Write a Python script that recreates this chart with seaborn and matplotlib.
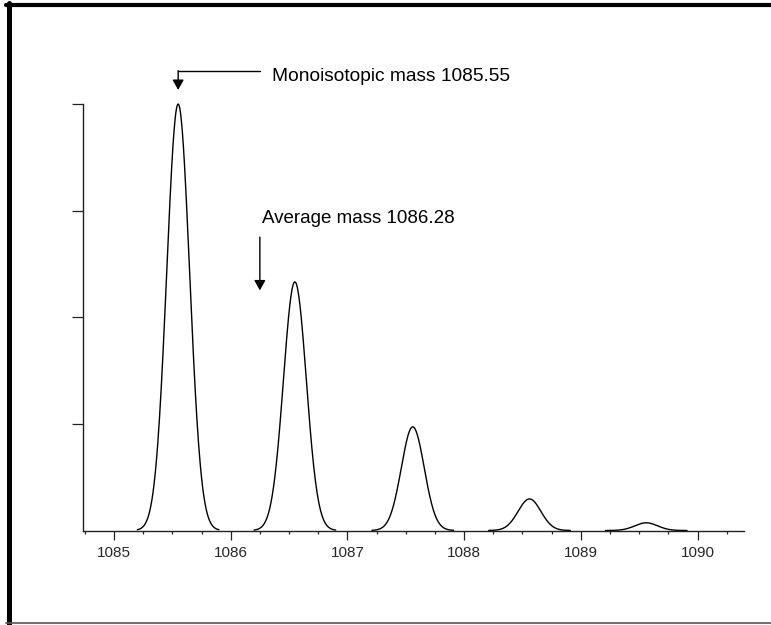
import numpy as np
import pandas as pd
import matplotlib
matplotlib.use("Agg")
import matplotlib.pyplot as plt
import seaborn as sns
from matplotlib.lines import Line2D

# isotope cluster (relative intensity, % of base peak)
peak_mz = [1085.55, 1086.55, 1087.56, 1088.56, 1089.56]
peak_height = [100.0, 58.3, 24.3, 7.4, 1.8]
peak_sigma = 0.098     # Da, profile width of each isotope peak
peak_halfspan = 0.35   # Da, extent of each drawn profile

x_major = [1085, 1086, 1087, 1088, 1089, 1090]
y_ticks = [25, 50, 75, 100]

mono_mass = 1085.55
avg_mass = 1086.25   # where the arrow sits on the axis
mono_label = "Monoisotopic mass 1085.55"
avg_label = "Average mass 1086.28"

# build profile spectrum from the centroid list
rows = []
for i, (c, h) in enumerate(zip(peak_mz, peak_height)):
    mz = np.linspace(c - peak_halfspan, c + peak_halfspan, 141)
    inten = h * np.exp(-0.5 * ((mz - c) / peak_sigma) ** 2)
    rows.append(pd.DataFrame({"mz": mz, "intensity": inten, "peak": i}))
spec = pd.concat(rows, ignore_index=True)

sns.set_style("white")
plt.rcParams["font.family"] = ["Liberation Sans", "DejaVu Sans"]

fig = plt.figure(figsize=(7.71, 6.25), dpi=100)
ax = fig.add_axes([0.1080, 0.1512, 0.8570, 0.6824])

sns.lineplot(data=spec, x="mz", y="intensity", units="peak", estimator=None,
             color="black", linewidth=1.0, ax=ax, clip_on=False, legend=False)

ax.set_xlim(1084.737, 1090.398)
ax.set_ylim(0, 100)
ax.set_xlabel("")
ax.set_ylabel("")

ax.set_xticks(x_major)
ax.set_xticks(np.arange(1084.75, 1090.3, 0.25), minor=True)
ax.set_yticks(y_ticks)
ax.set_yticklabels([])

for side in ["top", "right"]:
    ax.spines[side].set_visible(False)
for side in ["left", "bottom"]:
    ax.spines[side].set_color("#222222")
    ax.spines[side].set_linewidth(1.0)

ax.tick_params(axis="x", which="major", direction="out", length=6.5, width=0.9,
               color="#222222", labelsize=11, pad=4.5, bottom=True)
ax.tick_params(axis="x", which="minor", direction="out", length=2.2, width=0.9,
               color="#222222", bottom=True)
ax.tick_params(axis="y", which="major", direction="out", length=8, width=0.9,
               color="#222222", left=True)

# monoisotopic label with elbow arrow
arrow_kw = dict(arrowstyle="-|>,head_length=0.5,head_width=0.28", color="black",
                lw=1.0, shrinkA=0, shrinkB=0, mutation_scale=12)
ax.plot([1086.25, mono_mass], [107.8, 107.8], color="black", lw=1.0, clip_on=False)
ax.annotate("", xy=(mono_mass, 103.3), xytext=(mono_mass, 107.8),
            arrowprops=arrow_kw, annotation_clip=False)
ax.text(1086.35, 105.4, mono_label, fontsize=13.8, va="baseline", ha="left",
        color="black", clip_on=False)

# average mass label with straight arrow
ax.annotate("", xy=(avg_mass, 56.3), xytext=(avg_mass, 68.8),
            arrowprops=arrow_kw, annotation_clip=False)
ax.text(1086.265, 72.2, avg_label, fontsize=13.5, va="baseline", ha="left",
        color="black")

# picture frame: heavy left/top, thin bottom
W, H = 771.0, 625.0
fig.add_artist(Line2D([8.5 / W, 8.5 / W], [0, 1 - 3 / H], color="black", lw=3.6,
                      transform=fig.transFigure))
fig.add_artist(Line2D([6 / W, 1], [1 - 5.3 / H, 1 - 5.3 / H], color="black", lw=3.0,
                      transform=fig.transFigure))
fig.add_artist(Line2D([6 / W, 1], [2.5 / H, 2.5 / H], color="#555555", lw=1.2,
                      transform=fig.transFigure))

fig.savefig("out.png", dpi=100)
plt.close(fig)
